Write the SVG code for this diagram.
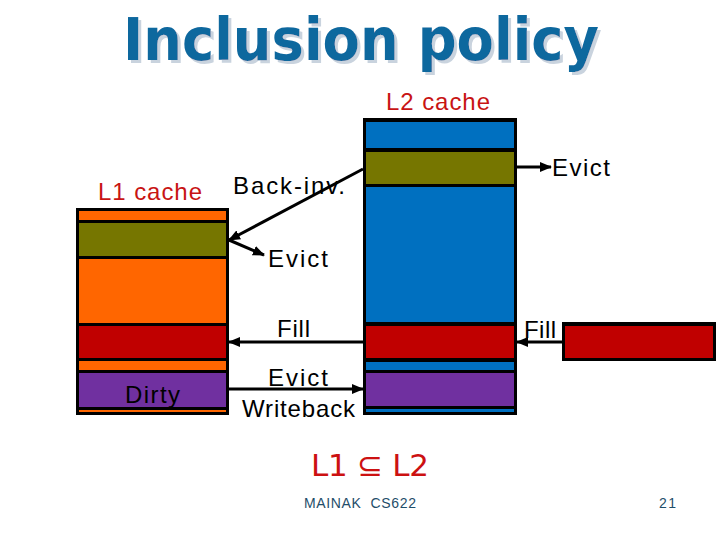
<svg xmlns="http://www.w3.org/2000/svg" width="720" height="540" viewBox="0 0 720 540">
<style>
.lbl{font-family:"Liberation Sans",Arial,sans-serif;font-size:24px;fill:#000}
.red{font-family:"Liberation Sans",Arial,sans-serif;font-size:24px;fill:#C81414}
.title{font-family:"DejaVu Sans",Verdana,sans-serif;font-weight:bold;font-size:58px}
.foot{font-family:"Liberation Sans",Arial,sans-serif;font-size:14px;fill:#1F4E6A}
.conn{stroke:#000;stroke-width:3;fill:none}
.o{fill:#FF6600}.g{fill:#767600}.r{fill:#C00000}.p{fill:#7030A0}.b{fill:#0070C0}
</style>
<defs>
<marker id="ah" markerUnits="userSpaceOnUse" markerWidth="12" markerHeight="10" refX="11" refY="5" orient="auto">
<path d="M0,0 L12,5 L0,10 z" fill="#000"/>
</marker>
<filter id="shadow" x="-5%" y="-20%" width="110%" height="140%">
<feOffset in="SourceAlpha" dx="3" dy="3" result="off"/>
<feFlood flood-color="#C9D3DE"/>
<feComposite in2="off" operator="in" result="sh"/>
<feMerge><feMergeNode in="sh"/><feMergeNode in="SourceGraphic"/></feMerge>
</filter>
</defs>
<rect width="720" height="540" fill="#fff"/>
<g id="title">
<text class="title" x="123" y="60" fill="#11679E" textLength="476" lengthAdjust="spacingAndGlyphs" filter="url(#shadow)">Inclusion policy</text>
</g>
<g id="l1cache">
<text class="red" x="98" y="200" textLength="104">L1 cache</text>
<rect x="76" y="208" width="153" height="207" fill="#000"/>
<rect class="o" x="79" y="211" width="147" height="9"/>
<rect class="g" x="79" y="223" width="147" height="33"/>
<rect class="o" x="79" y="259" width="147" height="64"/>
<rect class="r" x="79" y="326" width="147" height="32"/>
<rect class="o" x="79" y="361" width="147" height="9"/>
<rect class="p" x="79" y="373" width="147" height="34"/>
<rect class="o" x="79" y="410" width="147" height="2"/>
<text class="lbl" x="125" y="403" textLength="55" fill="#111">Dirty</text>
</g>
<g id="l2cache">
<text class="red" x="386" y="110" textLength="104">L2 cache</text>
<rect x="363" y="118" width="154" height="297" fill="#000"/>
<rect class="b" x="366" y="122" width="148" height="26"/>
<rect class="g" x="366" y="152" width="148" height="32"/>
<rect class="b" x="366" y="187" width="148" height="135"/>
<rect class="r" x="366" y="326" width="148" height="32"/>
<rect class="b" x="366" y="362" width="148" height="8"/>
<rect class="p" x="366" y="373" width="148" height="33"/>
<rect class="b" x="366" y="409" width="148" height="3"/>
</g>
<g id="memory">
<rect x="562" y="322" width="154" height="39" fill="#000"/>
<rect class="r" x="565" y="326" width="148" height="32"/>
</g>
<g id="connectors">
<line class="conn" x1="363" y1="169" x2="229" y2="240" marker-end="url(#ah)"/>
<line class="conn" x1="229" y1="240" x2="264" y2="255" marker-end="url(#ah)"/>
<line class="conn" x1="517" y1="167" x2="551" y2="167" marker-end="url(#ah)"/>
<line class="conn" x1="363" y1="342" x2="229" y2="342" marker-end="url(#ah)"/>
<line class="conn" x1="229" y1="389" x2="363" y2="389" marker-end="url(#ah)"/>
<line class="conn" x1="562" y1="342" x2="517" y2="342" marker-end="url(#ah)"/>
<text class="lbl" x="233" y="194" textLength="112">Back-inv.</text>
<text class="lbl" x="268" y="267" textLength="60">Evict</text>
<text class="lbl" x="552" y="176" textLength="58">Evict</text>
<text class="lbl" x="277" y="337" textLength="33">Fill</text>
<text class="lbl" x="524" y="338" textLength="32">Fill</text>
<text class="lbl" x="268" y="386" textLength="60">Evict</text>
<text class="lbl" x="242" y="417" textLength="113">Writeback</text>
</g>
<g id="footer">
<text x="311" y="476" font-family="'DejaVu Sans',sans-serif" font-size="31" fill="#CC1111" textLength="118">L1 ⊆ L2</text>
<text class="foot" x="304" y="508" textLength="112" xml:space="preserve">MAINAK  CS622</text>
<text class="foot" x="659" y="508" textLength="17">21</text>
</g>
</svg>
